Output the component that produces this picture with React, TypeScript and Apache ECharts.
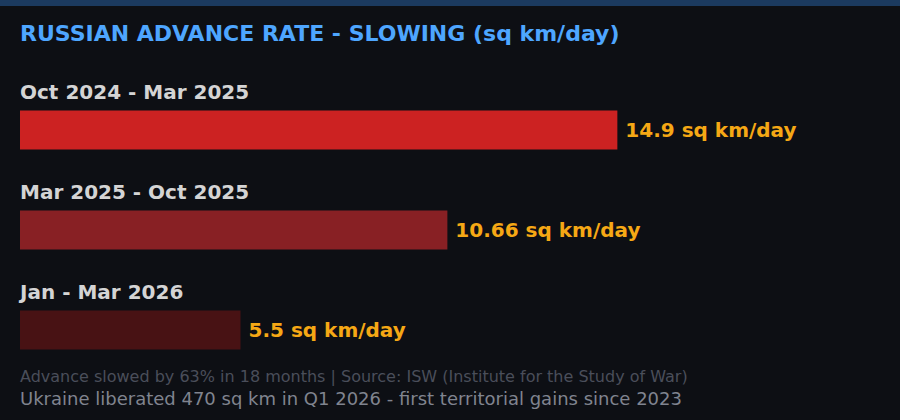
import React, { useEffect, useRef } from "react";
import * as echarts from "echarts";

const periods = ["Oct 2024 - Mar 2025", "Mar 2025 - Oct 2025", "Jan - Mar 2026"];
const rates = [14.9, 10.66, 5.5];
const barColors = ["#cc2222", "#882024", "#481214"];
const titleText = "RUSSIAN ADVANCE RATE - SLOWING (sq km/day)";
const footnote1 = "Advance slowed by 63% in 18 months | Source: ISW (Institute for the Study of War)";
const footnote2 = "Ukraine liberated 470 sq km in Q1 2026 - first territorial gains since 2023";

const FONT = "DejaVu Sans";

export default function App() {
  const ref = useRef<HTMLDivElement>(null);
  useEffect(() => {
    document.body.style.margin = "0";
    document.body.style.background = "#0d0f14";
    const chart = echarts.init(ref.current!, undefined, { renderer: "svg" });
    chart.setOption({
      animation: false,
      backgroundColor: "#0d0f14",
      title: {
        text: titleText,
        left: 20,
        top: 22,
        padding: 0,
        textStyle: { color: "#4ea6ff", fontSize: 22, fontWeight: "bold", fontFamily: FONT },
      },
      grid: { left: 20, right: 0, top: 80, height: 300 },
      xAxis: {
        type: "value",
        min: 0,
        max: 21.95,
        show: false,
      },
      yAxis: {
        type: "category",
        data: periods,
        inverse: true,
        axisLine: { show: false },
        axisTick: { show: false },
        splitLine: { show: false },
        axisLabel: {
          inside: true,
          margin: 0,
          align: "left",
          verticalAlign: "bottom",
          padding: [0, 0, 28, 0],
          color: "#d4d4d4",
          fontSize: 20,
          fontWeight: "bold",
          fontFamily: FONT,
        },
      },
      series: [
        {
          type: "bar",
          barWidth: 39,
          data: rates.map((v, i) => ({ value: v, itemStyle: { color: barColors[i] } })),
          label: {
            show: true,
            position: "right",
            distance: 8,
            formatter: "{c} sq km/day",
            color: "#f5a815",
            fontSize: 20,
            fontWeight: "bold",
            fontFamily: FONT,
          },
        },
      ],
      graphic: [
        { type: "rect", left: 0, top: 0, shape: { width: 900, height: 6 }, style: { fill: "#1b3a5f" } },
        {
          type: "text",
          left: 20,
          top: 368,
          style: { text: footnote1, fill: "#4a4e5a", fontSize: 16, fontFamily: FONT },
        },
        {
          type: "text",
          left: 20,
          top: 389,
          style: { text: footnote2, fill: "#80848f", fontSize: 18, fontFamily: FONT },
        },
      ],
    });
    return () => chart.dispose();
  }, []);
  return <div ref={ref} style={{ width: 900, height: 420 }} />;
}
